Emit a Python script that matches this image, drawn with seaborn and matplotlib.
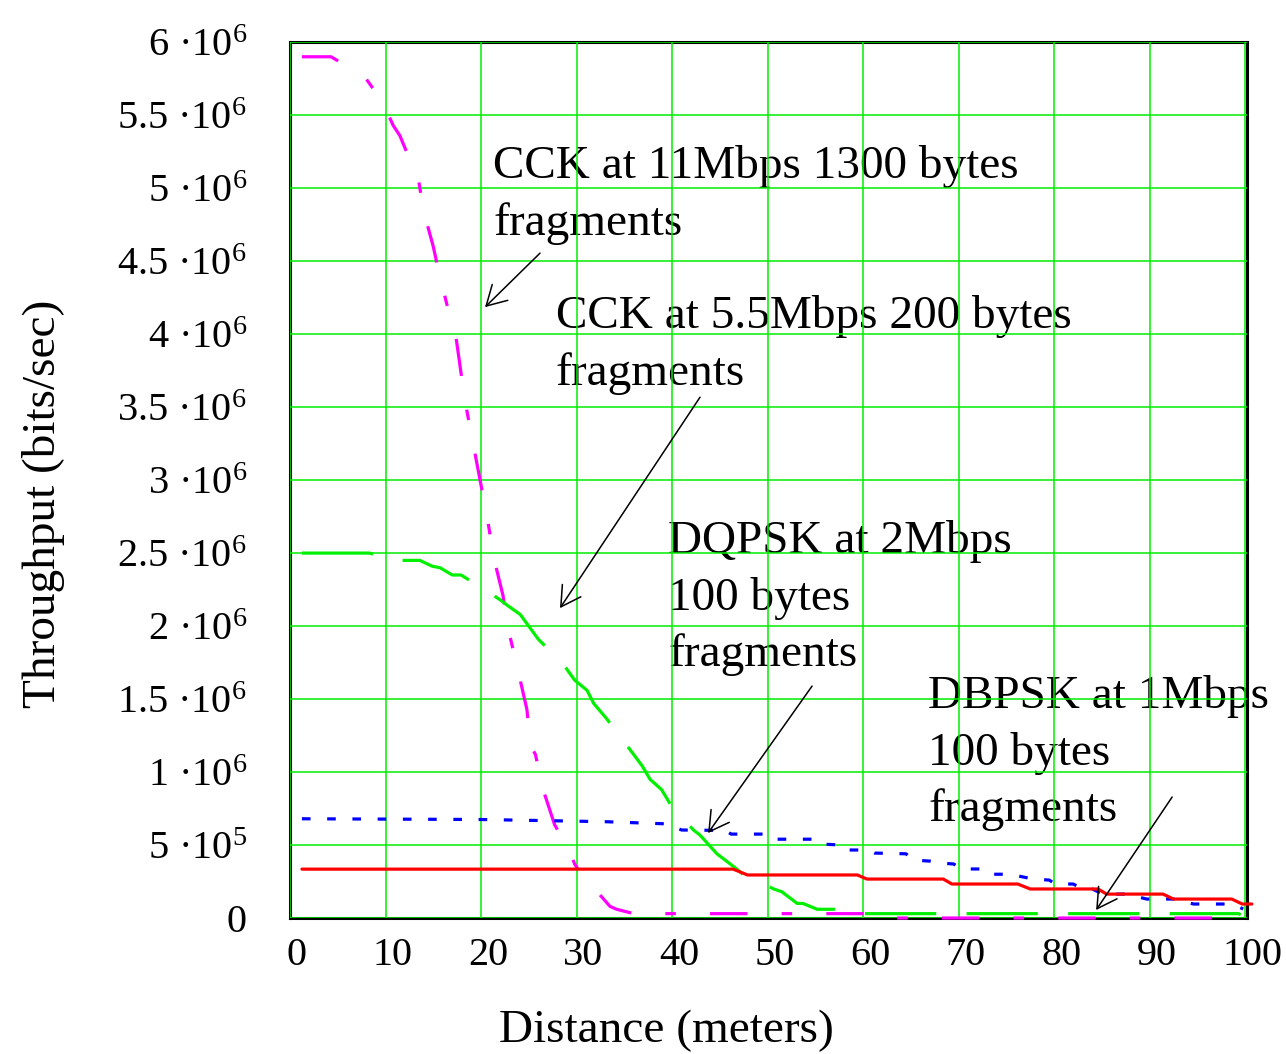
import matplotlib
matplotlib.use('Agg')
import numpy as np
import matplotlib.pyplot as plt
import matplotlib.transforms as mtransforms
import seaborn as sns

# throughput values in Mbit/s, distances in meters
cck11_dist = [1.25, 4.3, 7.1, 7.85, 9.7, 10.8, 11.5, 12.9, 13.4, 14.0, 15.0, 15.8, 16.1,
              17.0, 17.4, 18.3, 19.9, 20.6, 21.4, 22.3, 22.8, 23.1, 24.0, 24.8, 25.2,
              25.7, 26.5, 27.7, 29.4, 29.8, 30.8, 31.9, 33.5, 34.2, 36.0, 60.5, 62.0, 100.0]
cck11_tput = [5.90, 5.90, 5.79, 5.76, 5.59, 5.43, 5.36, 5.14, 5.08, 4.84, 4.60, 4.36, 4.29,
              4.05, 3.97, 3.55, 3.00, 2.76, 2.45, 2.21, 1.97, 1.91, 1.66, 1.43, 1.18,
              1.12, 0.88, 0.64, 0.44, 0.37, 0.27, 0.20, 0.08, 0.06, 0.03, 0.03, 0.0, 0.0]

cck55_dist = [1.25, 8.3, 11.2, 13.6, 14.9, 15.7, 17.0, 17.9, 20.4, 22.0, 22.8, 24.1, 26.0,
              28.6, 29.8, 31.1, 31.8, 33.1, 35.3, 36.9, 37.7, 38.9, 40.1, 42.3, 42.9,
              44.7, 46.3, 48.0, 49.5, 50.6, 51.5, 53.1, 53.7, 55.2, 57.0, 60.0, 99.3, 100.0]
cck55_tput = [2.50, 2.50, 2.45, 2.45, 2.41, 2.40, 2.35, 2.35, 2.25, 2.18, 2.14, 2.08, 1.91,
              1.74, 1.63, 1.56, 1.47, 1.37, 1.18, 1.04, 0.95, 0.88, 0.75, 0.60, 0.57,
              0.44, 0.36, 0.27, 0.24, 0.20, 0.18, 0.10, 0.10, 0.06, 0.06, 0.03, 0.03, 0.01]

dqpsk_dist = [1.25, 20.0, 33.0, 39.5, 41.0, 45.5, 46.2, 50.0, 50.8, 54.8, 55.5, 57.8, 58.3,
              60.5, 61.2, 64.5, 65.2, 67.0, 68.0, 69.5, 70.2, 72.6, 73.3, 75.4, 77.8,
              79.5, 80.1, 82.0, 83.0, 84.0, 85.1, 87.6, 89.7, 92.5, 94.6, 98.7, 99.8]
dqpsk_tput = [0.68, 0.675, 0.66, 0.645, 0.603, 0.60, 0.575, 0.575, 0.54, 0.54, 0.507, 0.50,
              0.466, 0.466, 0.445, 0.44, 0.397, 0.39, 0.377, 0.37, 0.336, 0.336, 0.30,
              0.30, 0.267, 0.26, 0.233, 0.233, 0.199, 0.199, 0.164, 0.164, 0.13, 0.13,
              0.096, 0.096, 0.062]

dbpsk_dist = [1.25, 46.4, 47.9, 59.4, 60.4, 68.4, 69.3, 76.2, 77.5, 84.6, 85.5, 91.4, 92.5,
              98.6, 99.7, 100.7]
dbpsk_tput = [0.335, 0.335, 0.295, 0.295, 0.267, 0.267, 0.233, 0.233, 0.199, 0.199, 0.164,
              0.164, 0.13, 0.13, 0.096, 0.096]

x_ticks = list(range(0, 101, 10))
y_ticks = [0, 0.5e6, 1e6, 1.5e6, 2e6, 2.5e6, 3e6, 3.5e6, 4e6, 4.5e6, 5e6, 5.5e6, 6e6]
y_tick_labels = ['0', '5 ·$10^{5}$', '1 ·$10^{6}$', '1.5 ·$10^{6}$', '2 ·$10^{6}$',
                 '2.5 ·$10^{6}$', '3 ·$10^{6}$', '3.5 ·$10^{6}$', '4 ·$10^{6}$',
                 '4.5 ·$10^{6}$', '5 ·$10^{6}$', '5.5 ·$10^{6}$', '6 ·$10^{6}$']

sns.set_style('white')
plt.rcParams['font.family'] = ['Liberation Serif', 'DejaVu Serif']
plt.rcParams['mathtext.fontset'] = 'custom'
plt.rcParams['mathtext.rm'] = 'Liberation Serif'
plt.rcParams['mathtext.it'] = 'Liberation Serif:italic'
plt.rcParams['mathtext.bf'] = 'Liberation Serif:bold'
plt.rcParams['text.color'] = 'black'
plt.rcParams['axes.labelcolor'] = 'black'
plt.rcParams['xtick.color'] = 'black'
plt.rcParams['ytick.color'] = 'black'

fig = plt.figure(figsize=(12.86, 10.54), dpi=100)
ax = fig.add_axes([0.2255, 0.129, 0.7442, 0.831])

series = [
    (cck11_dist, cck11_tput, '#ff00ff', (11.7, 10.7, 3.3, 10.7)),
    (cck55_dist, cck55_tput, '#00f000', (22.3, 9.5)),
    (dqpsk_dist, dqpsk_tput, '#0000ff', (2.7, 5.2)),
    (dbpsk_dist, dbpsk_tput, '#ff0000', None),
]
for d, t, c, dash in series:
    sns.lineplot(x=d, y=np.array(t) * 1e6, ax=ax, color=c, linewidth=2.3,
                 sort=False, estimator=None)
    ln = ax.lines[-1]
    if dash:
        ln.set_dashes(dash)
    ln.set_zorder(3)
    ln.set_clip_on(False)

ax.set_xlim(0, 100.2)
ax.set_ylim(0, 6e6)
ax.set_xticks(x_ticks)
ax.set_xticklabels([str(v) for v in x_ticks])
ax.set_yticks(y_ticks)
ax.set_yticklabels(y_tick_labels)
ax.tick_params(axis='x', length=0, pad=14, labelsize=29, labelcolor='black')
ax.tick_params(axis='y', length=0, pad=31, labelsize=29, labelcolor='black')
shift = mtransforms.ScaledTranslation(0.07, 0, fig.dpi_scale_trans)
for lbl in ax.get_xticklabels():
    lbl.set_transform(lbl.get_transform() + shift)

ax.grid(True, color='#00ee00', lw=1.1)
ax.set_axisbelow(False)
for s in ax.spines.values():
    s.set_color('black')
    s.set_linewidth(2.2)

ax.set_xlabel('Distance (meters)', fontsize=34, color='black')
ax.xaxis.set_label_coords(0.393, -0.105)
ax.set_ylabel('Throughput (bits/sec)', fontsize=34, color='black')
ax.yaxis.set_label_coords(-0.235, 0.473)

# annotations: text lines + arrows
step = 0.387e6
notes = [
    (21.26, 5.068e6, ['CCK at 11Mbps 1300 bytes', 'fragments']),
    (27.85, 4.041e6, ['CCK at 5.5Mbps 200 bytes', 'fragments']),
    (39.58, 2.50e6, ['DQPSK at 2Mbps', '100 bytes', 'fragments']),
    (66.8, 1.438e6, ['DBPSK at 1Mbps', '100 bytes', 'fragments']),
]
for x0, y0, lines in notes:
    for i, s in enumerate(lines):
        ax.text(x0, y0 - i * step, s, fontsize=34, ha='left', va='baseline',
                color='black', zorder=1)

arrows = [
    ((26.18, 4.555e6), (20.42, 4.185e6)),
    ((42.93, 3.568e6), (28.27, 2.123e6)),
    ((54.66, 1.589e6), (43.77, 0.582e6)),
    ((92.36, 0.829e6), (84.40, 0.055e6)),
]
for tail, head in arrows:
    ax.annotate('', xy=head, xytext=tail,
                arrowprops=dict(arrowstyle='->,head_length=0.7,head_width=0.4',
                                color='black', lw=1.1, shrinkA=0, shrinkB=0,
                                mutation_scale=20))

fig.savefig('out.png', dpi=100)
